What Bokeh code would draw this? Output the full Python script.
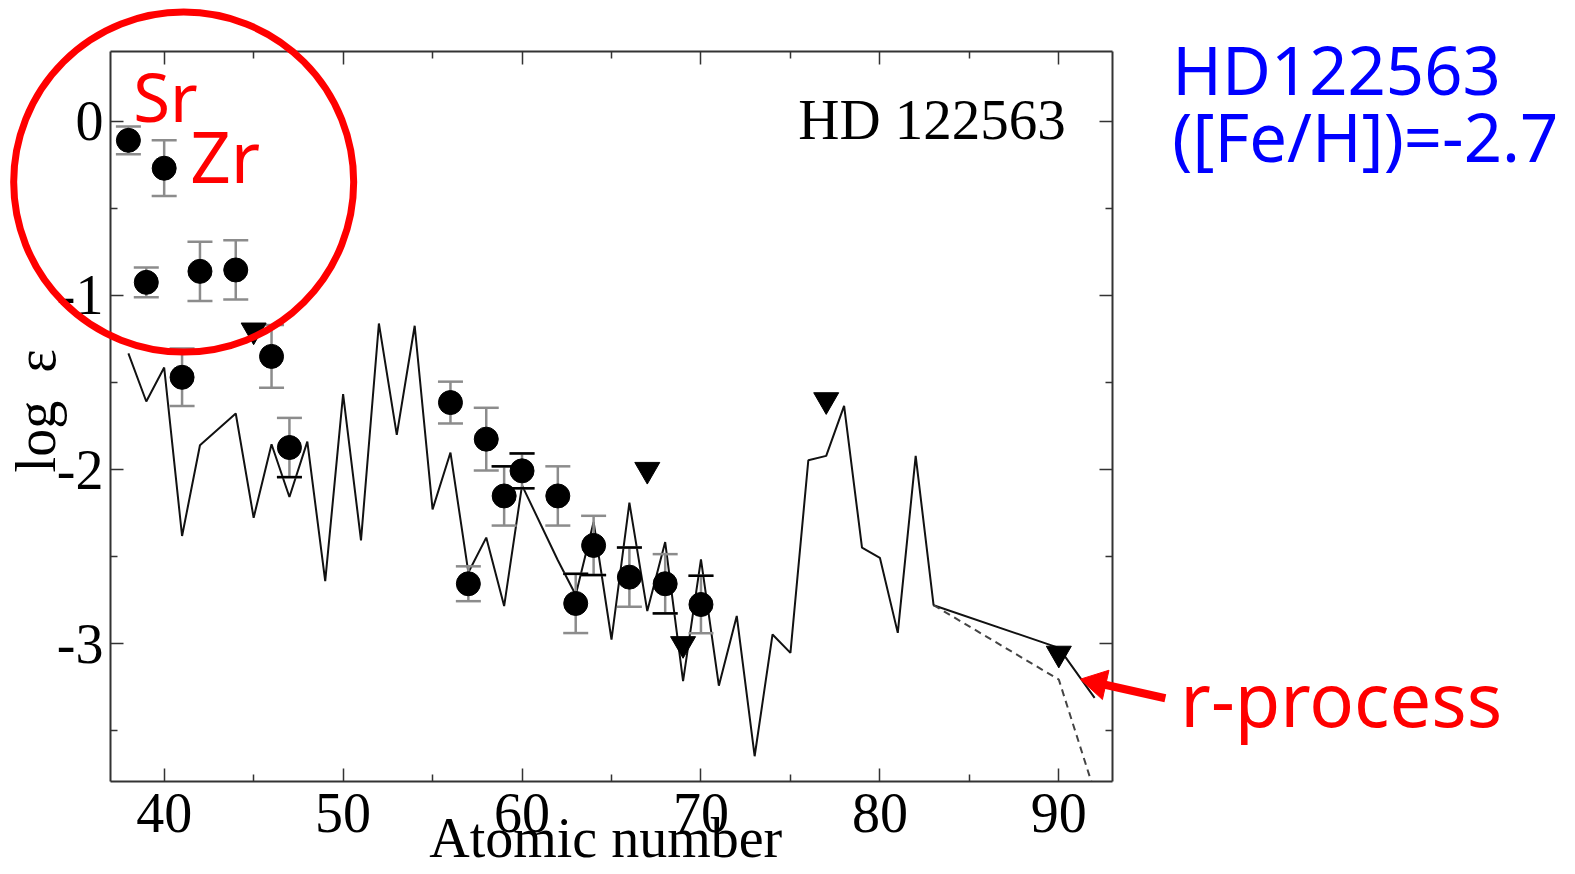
from bokeh.plotting import figure
from bokeh.models import LinearAxis, FixedTicker, Range1d, CustomJSTickFormatter
from bokeh.core.properties import value
from bokeh.embed import file_html
from bokeh.resources import INLINE
import math

# ---------------- data ----------------
obs_z = [38, 39, 40, 41, 42, 44, 46, 47, 56, 57, 58, 59, 60, 62, 63, 64, 66, 68, 70]
obs_logeps = [-0.11, -0.925, -0.27, -1.47, -0.862, -0.854, -1.35, -1.873, -1.615, -2.655,
              -1.825, -2.151, -2.007, -2.151, -2.768, -2.435, -2.617, -2.655, -2.774]
obs_err = [0.08, 0.085, 0.16, 0.165, 0.17, 0.17, 0.18, 0.17, 0.12, 0.10,
           0.18, 0.17, 0.10, 0.17, 0.17, 0.17, 0.17, 0.17, 0.165]
black_top_z = [59, 60, 63, 66, 70]
black_bottom_z = [47, 60, 64, 68]

limit_z = [45, 67, 69, 77, 90]
limit_logeps = [-1.2, -2.0, -3.0, -1.6, -3.055]

rproc_z = [38, 39, 40, 41, 42, 44, 45, 46, 47, 48, 49, 50, 51, 52, 53, 54, 55, 56, 57, 58,
           59, 60, 62, 63, 64, 65, 66, 67, 68, 69, 70, 71, 72, 73, 74, 75, 76, 77, 78, 79,
           80, 81, 82, 83, 90, 92]
rproc_logeps = [-1.333, -1.609, -1.414, -2.381, -1.86, -1.678, -2.276, -1.854, -2.157, -1.839,
                -2.64, -1.567, -2.406, -1.161, -1.80, -1.174, -2.228, -1.902, -2.59, -2.39,
                -2.783, -2.09, -2.52, -2.72, -2.30, -2.975, -2.19, -2.812, -2.416, -3.214,
                -2.515, -3.24, -2.84, -3.645, -2.946, -3.052, -1.946, -1.921, -1.634, -2.448,
                -2.506, -2.937, -1.921, -2.778, -3.023, -3.31]
rproc2_z = [83, 90, 92]
rproc2_logeps = [-2.778, -3.205, -3.85]

x_ticks = [40, 50, 60, 70, 80, 90]
x_minor = [35, 45, 55, 65, 75, 85, 95]
y_ticks = [-3, -2, -1, 0]
y_minor = [-3.5, -2.5, -1.5, -0.5]
y_tick_labels = ["-3", "-2", "-1", "0"]

# ---------------- figure ----------------
p = figure(width=1575, height=874, output_backend="svg", toolbar_location=None,
           x_range=Range1d(37, 93), y_range=Range1d(-3.79, 0.40),
           min_border_left=110, min_border_right=463, min_border_top=51, min_border_bottom=93,
           y_axis_label="\u2009log\u2002ε")
p.grid.visible = False
p.outline_line_color = None
p.background_fill_color = "white"
p.border_fill_color = "white"

serif = "Liberation Serif"
sans = "Noto Sans"

bottom = p.below[0]
left = p.left[0]
top = LinearAxis()
right = LinearAxis()
p.add_layout(top, "above")
p.add_layout(right, "right")

for ax in [bottom, top]:
    ax.ticker = FixedTicker(ticks=x_ticks, minor_ticks=x_minor)
for ax in [left, right]:
    ax.ticker = FixedTicker(ticks=y_ticks, minor_ticks=y_minor)
left.major_label_overrides = dict(zip(y_ticks, y_tick_labels))

for ax in [bottom, top, left, right]:
    ax.axis_line_color = "#333333"
    ax.axis_line_width = 2
    ax.major_tick_in = 13
    ax.major_tick_out = 0
    ax.minor_tick_in = 7
    ax.minor_tick_out = 0
    ax.major_tick_line_color = "#333333"
    ax.minor_tick_line_color = "#333333"
    ax.major_tick_line_width = 1.5
    ax.minor_tick_line_width = 1.5
    ax.major_label_text_font = serif
    ax.major_label_text_font_size = "56px"
    ax.major_label_text_color = "black"
    ax.axis_label_text_font = serif
    ax.axis_label_text_font_size = "56px"
    ax.axis_label_text_font_style = "normal"
    ax.axis_label_text_color = "black"

for ax in [top, right]:
    ax.formatter = CustomJSTickFormatter(code="return ''")
    ax.major_label_standoff = 0

bottom.major_label_standoff = 12
left.major_label_standoff = 7
left.axis_label_standoff = -13

# r-process curves
p.line(rproc_z, rproc_logeps, line_color="#111111", line_width=2)
p.line(rproc2_z, rproc2_logeps, line_color="#444444", line_width=2, line_dash="7 5")

# error bars
lo = [v - e for v, e in zip(obs_logeps, obs_err)]
hi = [v + e for v, e in zip(obs_logeps, obs_err)]
gray = "#8c8c8c"
p.segment(x0=obs_z, y0=lo, x1=obs_z, y1=hi, line_color=gray, line_width=2.5)
p.scatter(obs_z, lo, marker="dash", size=25, line_color=gray, line_width=2.5)
p.scatter(obs_z, hi, marker="dash", size=25, line_color=gray, line_width=2.5)
bt_y = [hi[obs_z.index(z)] for z in black_top_z]
bb_y = [lo[obs_z.index(z)] for z in black_bottom_z]
p.scatter(black_top_z, bt_y, marker="dash", size=25, line_color="black", line_width=2.5)
p.scatter(black_bottom_z, bb_y, marker="dash", size=25, line_color="black", line_width=2.5)

# measured abundances
p.scatter(obs_z, obs_logeps, marker="circle", size=24, fill_color="black", line_color="black")
# upper limits
p.scatter(limit_z, limit_logeps, marker="inverted_triangle", size=25,
          fill_color="black", line_color="black")

# ---------------- annotations (screen-pixel placement helpers) ----------------
X0_PX, X_PER = 164.0, 17.89      # pixel of Z=40, pixels per unit
Y0_PX, Y_PER = 120.7, 174.0      # pixel of log eps=0, pixels per dex


def dx(px):
    return 40 + (px - X0_PX) / X_PER


def dy(py):
    return -(py - Y0_PX) / Y_PER


def text(px, baseline_py, s, font, size, color):
    p.text(x=[dx(px)], y=[dy(baseline_py - 0.4 * size)], text=[s],
           text_font=value(font), text_font_size=value(f"{size}px"),
           text_baseline="alphabetic", text_color=color, level="overlay")


# x-axis title (placed below the tick labels)
text(429, 859, "Atomic number", serif, 56, "black")

# red circle around Sr..Ru
p.scatter([dx(183.5)], [dy(181.5)], marker="circle", size=340, fill_color=None,
          line_color="#ff0000", line_width=7, level="overlay")

text(798, 141.7, "HD 122563", serif, 57, "black")
text(133, 122, "Sr", sans, 67, "#ff0000")
text(190, 183, "Zr", sans, 71, "#ff0000")
text(1172, 95, "HD122563", sans, 67, "#0000ff")
text(1172, 162, "([Fe/H])=-2.7", sans, 67, "#0000ff")
text(1180, 727, "r-process", sans, 74, "#ff0000")

# arrow pointing at the r-process curve
tip = (1080.0, 678.0)
tail = (1165.0, 697.0)
ux, uy = tail[0] - tip[0], tail[1] - tip[1]
ln = math.hypot(ux, uy)
ux, uy = ux / ln, uy / ln
head = 30
h = head / 2 * math.sqrt(3)
cx, cy = tip[0] + ux * 2 * h / 3, tip[1] + uy * 2 * h / 3
p.segment(x0=[dx(tail[0])], y0=[dy(tail[1])], x1=[dx(cx)], y1=[dy(cy)],
          line_color="#ff0000", line_width=8, level="overlay")
ang = math.atan2(uy, -ux) - math.pi / 2
p.scatter([dx(cx)], [dy(cy)], marker="triangle", size=head, angle=ang,
          fill_color="#ff0000", line_color="#ff0000", level="overlay")

open("out.html", "w").write(file_html(p, INLINE))
